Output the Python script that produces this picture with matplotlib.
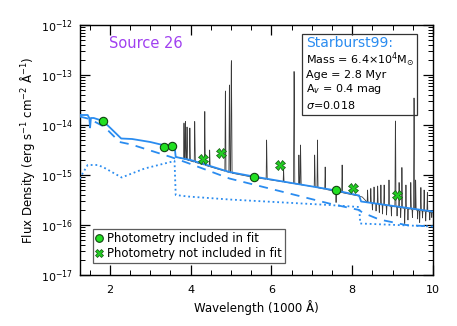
import numpy as np
import matplotlib
matplotlib.use("Agg")
import matplotlib.pyplot as plt
from matplotlib.lines import Line2D
from matplotlib.patches import Rectangle
from matplotlib.ticker import LogLocator, NullFormatter

# ---------------- data (wavelength in 1000 A, log10 flux) ----------------
# photometry included in fit
phot_in_wl = [1.83, 3.34, 3.53, 5.56, 7.60]
phot_in_flux = [1.2e-14, 3.7e-15, 3.8e-15, 9.3e-16, 4.9e-16]
# photometry not included in fit
phot_out_wl = [4.30, 4.76, 6.20, 8.03, 9.12]
phot_out_flux = [2.1e-15, 2.8e-15, 1.6e-15, 5.4e-16, 4.0e-16]

# Starburst99 model total (solid)
model_wl = [1.25, 1.45, 1.49, 1.51, 1.53, 1.60, 1.83, 2.00, 2.28, 2.55, 3.00, 3.31, 3.60, 3.63,
            4.00, 4.96, 5.56, 6.50, 7.60, 8.17, 8.22, 10.0]
model_log = [-13.80, -13.80, -13.86, -14.05, -13.86, -13.86, -13.92, -14.05, -14.27, -14.28,
             -14.34, -14.40, -14.42, -14.64, -14.70, -14.94, -15.03, -15.16, -15.31, -15.41,
             -15.53, -15.73]
# stellar component (dashed)
stellar_wl = [1.25, 1.50, 1.87, 2.24, 2.53, 3.51, 3.93, 4.96, 5.95, 7.43, 8.17, 8.25, 8.67, 9.33, 10.0]
stellar_log = [-13.83, -13.88, -14.04, -14.34, -14.39, -14.64, -14.76, -15.07, -15.27, -15.57,
               -15.70, -15.75, -15.89, -16.00, -16.03]
# nebular component (dotted)
nebular_wl = [1.25, 1.45, 1.70, 1.85, 2.29, 2.86, 3.60, 3.63, 3.93, 4.96, 7.43, 8.17, 8.20, 10.0]
nebular_log = [-15.07, -14.80, -14.80, -14.85, -15.05, -14.87, -14.72, -15.40, -15.43, -15.49,
               -15.60, -15.64, -15.97, -16.03]

# observed spectrum: continuum knots
spec_cont_wl = [3.65, 4.00, 5.00, 5.56, 6.00, 7.00, 7.60, 8.17, 8.25, 8.36, 9.00, 10.0]
spec_cont_log = [-14.64, -14.72, -14.96, -15.05, -15.10, -15.23, -15.33, -15.42, -15.44, -15.54,
                 -15.63, -15.75]
# emission lines (centre, peak log flux)
line_wl = [3.835, 3.87, 3.91, 3.98, 4.10, 4.35, 4.47, 4.86, 4.96, 5.007, 5.88, 6.30, 6.56, 6.68,
           6.72, 7.07, 7.14, 7.33, 7.75, 8.38, 8.46, 8.54, 8.63, 8.71, 8.79, 8.91, 9.07,
           9.16, 9.23, 9.33, 9.45, 9.53, 9.57, 9.70, 9.78, 9.86]
line_peak = [-13.95, -13.93, -14.04, -14.06, -13.93, -13.73, -14.50, -13.32, -13.20, -12.70, -14.30,
             -14.87, -12.93, -14.60, -14.40, -14.60, -14.30, -14.84, -14.80, -15.30, -15.27, -15.24,
             -15.22, -15.20, -15.20, -15.10, -13.92, -15.15, -14.85, -15.20, -15.15, -13.46, -15.10,
             -15.25, -15.30, -15.35]
# absorption / noise dips (centre, minimum log flux)
dip_wl = [7.60, 8.50, 8.59, 8.67, 8.75, 8.85, 8.97, 9.11, 9.20, 9.30, 9.38, 9.49, 9.62, 9.67,
          9.74, 9.82, 9.92, 9.97]
dip_min = [-15.55, -15.70, -15.72, -15.75, -15.78, -15.80, -15.82, -15.82, -15.85, -15.97,
           -15.90, -15.85, -15.88, -15.95, -15.86, -15.92, -15.90, -15.85]

# axis ticks
x_major = [2, 4, 6, 8, 10]
y_major = [1e-17, 1e-16, 1e-15, 1e-14, 1e-13, 1e-12]

# ---------------- figure ----------------
W, H = 457, 326
fig = plt.figure(figsize=(W / 100, H / 100), dpi=100)
ax = fig.add_axes([80 / W, 1 - 275 / H, 353 / W, 250 / H])

blue = "#2a8cf0"

def ax_xy(px, py):
    return ((px - 80) / 353, (275 - py) / 250)

# spectrum
wl = np.arange(3.65, 10.0, 0.002)
cont = 10 ** np.interp(wl, spec_cont_wl, spec_cont_log)
flux = cont.copy()
sig = 0.004
for c, p in zip(line_wl, line_peak):
    amp = 10 ** p - np.interp(c, wl, cont)
    flux += amp * np.exp(-0.5 * ((wl - c) / sig) ** 2)
for c, m in zip(dip_wl, dip_min):
    base = np.interp(c, wl, cont)
    frac = 1 - 10 ** m / base
    flux *= 1 - frac * np.exp(-0.5 * ((wl - c) / sig) ** 2)
ax.plot(wl, flux, color="#3a3a3a", lw=0.55, zorder=2)

ax.plot(nebular_wl, 10 ** np.array(nebular_log), color=blue, lw=1.3, ls=(0, (1, 1.6)), zorder=3)
ax.plot(stellar_wl, 10 ** np.array(stellar_log), color=blue, lw=1.3, ls=(0, (5, 4)), zorder=3)
ax.plot(model_wl, 10 ** np.array(model_log), color=blue, lw=1.3, zorder=3)

ax.plot(phot_in_wl, phot_in_flux, "o", ms=6, mfc="#22e022", mec="#114411", mew=0.8, zorder=5)
ax.plot(phot_out_wl, phot_out_flux, "X", ms=6.5, mfc="#22cc22", mec="#115511", mew=0.5, zorder=5)

ax.set_yscale("log")
ax.set_xlim(1.26, 10.0)
ax.set_ylim(1e-17, 1e-12)
ax.set_xticks(x_major)
ax.set_xticks(np.arange(1.5, 10.0, 0.5), minor=True)
ax.set_yticks(y_major)
ax.yaxis.set_minor_locator(LogLocator(base=10, subs=np.arange(2, 10), numticks=20))
ax.yaxis.set_minor_formatter(NullFormatter())
ax.tick_params(which="both", direction="in", top=True, right=True, labelsize=8, colors="black")
ax.tick_params(which="major", length=7, width=0.9)
ax.tick_params(axis="x", which="major", pad=7)
ax.tick_params(axis="y", which="major", pad=5)
ax.tick_params(which="minor", length=3.5, width=0.7)
for s in ax.spines.values():
    s.set_linewidth(1.0)

ax.set_xlabel("Wavelength (1000 Å)", fontsize=8.5, labelpad=4)
ax.set_ylabel("Flux Density (erg s$^{-1}$ cm$^{-2}$ Å$^{-1}$)", fontsize=8.5, labelpad=3)

ax.text(*ax_xy(146, 43), "Source 26", transform=ax.transAxes, fontsize=10.5,
        color="#a040f0", ha="center", va="center")

# model info box
x0, y0 = ax_xy(302, 115)
ax.add_patch(Rectangle((x0, y0), 115 / 353, 81 / 250, transform=ax.transAxes,
                       fill=False, ec="#333333", lw=0.9, zorder=6))
ax.text(*ax_xy(306, 43), "Starburst99:", transform=ax.transAxes, fontsize=10,
        color=blue, va="center", ha="left")
info = ["Mass = 6.4×10$^{4}$M$_{\\odot}$", "Age = 2.8 Myr", "A$_{v}$ = 0.4 mag", "$\\sigma$=0.018"]
ys = [60, 74.5, 89.5, 105]
for t, y in zip(info, ys):
    ax.text(*ax_xy(306, y), t, transform=ax.transAxes, fontsize=8, va="center", ha="left")

handles = [Line2D([], [], ls="none", marker="o", ms=5.5, mfc="#22e022", mec="#114411", mew=0.8),
           Line2D([], [], ls="none", marker="X", ms=6, mfc="#22cc22", mec="#115511", mew=0.5)]
leg = ax.legend(handles, ["Photometry included in fit", "Photometry not included in fit"],
                loc="lower left", bbox_to_anchor=ax_xy(93, 263),
                fontsize=8.4, frameon=True, fancybox=False, borderpad=0.25, handlelength=0.6,
                handletextpad=0.35, labelspacing=0.2, borderaxespad=0)
leg.get_frame().set_edgecolor("#333333")
leg.get_frame().set_linewidth(0.9)

fig.savefig("out.png", dpi=100)
